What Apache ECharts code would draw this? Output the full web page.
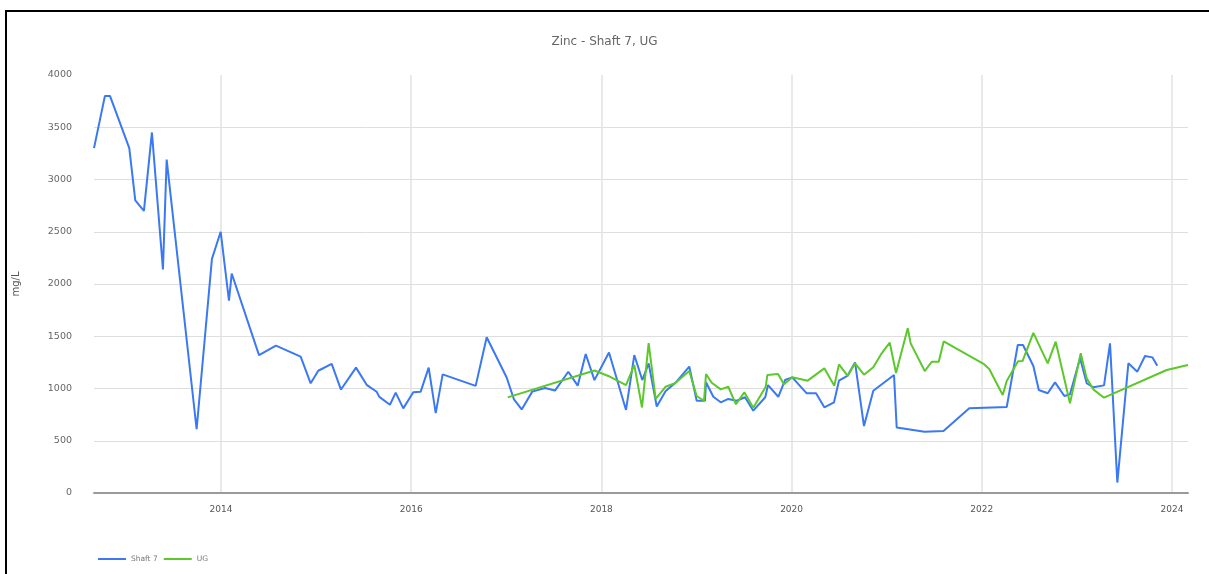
<!DOCTYPE html>
<html>
<head>
<meta charset="utf-8">
<title>Zinc - Shaft 7, UG</title>
<script src="https://cdn.jsdelivr.net/npm/echarts@6/dist/echarts.min.js"></script>
<style>
  html, body { margin: 0; padding: 0; background: #fff; }
  #chart { position: absolute; left: 0; top: 0; width: 1209px; height: 574px; }
  #frame { position: absolute; left: 5px; top: 10px; right: -4px; bottom: -4px;
           border-top: 2px solid #000; border-left: 2px solid #000; pointer-events: none; }
</style>
</head>
<body>
<div id="chart"></div>
<div id="frame"></div>
<script>
// Sample dates as decimal years, zinc concentration in mg/L
const shaftYears = [
  2012.665, 2012.780, 2012.833, 2013.036, 2013.099, 2013.190, 2013.274, 2013.390, 2013.429, 2013.744,
  2013.905, 2013.997, 2014.084, 2014.113, 2014.400, 2014.578, 2014.838, 2014.943, 2015.023, 2015.164,
  2015.262, 2015.420, 2015.532, 2015.637, 2015.665, 2015.777, 2015.837, 2015.917, 2016.022, 2016.100,
  2016.184, 2016.258, 2016.331, 2016.678, 2016.794, 2017.004, 2017.081, 2017.162, 2017.273, 2017.407,
  2017.512, 2017.652, 2017.751, 2017.835, 2017.927, 2018.080, 2018.259, 2018.346, 2018.430, 2018.497,
  2018.582, 2018.676, 2018.774, 2018.924, 2019.002, 2019.089, 2019.100, 2019.177, 2019.255, 2019.334,
  2019.423, 2019.510, 2019.597, 2019.723, 2019.752, 2019.860, 2019.931, 2020.007, 2020.159, 2020.257,
  2020.344, 2020.446, 2020.498, 2020.586, 2020.667, 2020.761, 2020.859, 2021.077, 2021.105, 2021.398,
  2021.597, 2021.868, 2022.262, 2022.378, 2022.433, 2022.542, 2022.599, 2022.693, 2022.770, 2022.868,
  2022.927, 2023.033, 2023.103, 2023.172, 2023.285, 2023.348, 2023.425, 2023.541, 2023.635, 2023.716,
  2023.793, 2023.845
];
const shaftZinc = [
  3300, 3800, 3800, 3300, 2800, 2700, 3450, 2140, 3190, 610,
  2240, 2500, 1840, 2100, 1320, 1410, 1305, 1050, 1170, 1235,
  990, 1200, 1035, 969, 920, 845, 960, 810, 965, 970,
  1200, 765, 1135, 1025, 1490, 1105, 895, 800, 970, 1005,
  980, 1160, 1027, 1330, 1080, 1345, 795, 1320, 1081, 1240,
  828, 976, 1050, 1210, 883, 883, 1060, 921, 868, 900,
  883, 916, 788, 916, 1033, 921, 1081, 1107, 954, 954,
  820, 868, 1075, 1120, 1250, 640, 979, 1129, 627, 587,
  593, 810, 823, 1416, 1416, 1215, 986, 954, 1059, 928,
  944, 1289, 1050, 1011, 1030, 1432, 100, 1241, 1161, 1311,
  1298, 1218
];

const ugYears = [
  2017.015, 2017.927, 2018.073, 2018.259, 2018.346, 2018.427, 2018.497, 2018.571, 2018.676, 2018.774,
  2018.924, 2019.002, 2019.079, 2019.100, 2019.160, 2019.255, 2019.334, 2019.415, 2019.503, 2019.597,
  2019.728, 2019.745, 2019.857, 2019.920, 2020.007, 2020.169, 2020.344, 2020.449, 2020.498, 2020.590,
  2020.667, 2020.761, 2020.859, 2020.947, 2021.032, 2021.098, 2021.221, 2021.252, 2021.400, 2021.473,
  2021.547, 2021.599, 2022.023, 2022.078, 2022.220, 2022.262, 2022.381, 2022.428, 2022.542, 2022.693,
  2022.777, 2022.927, 2023.040, 2023.103, 2023.172, 2023.285, 2023.944, 2024.168
];
const ugZinc = [
  915, 1172, 1120, 1033, 1225, 818, 1435, 900, 1017, 1050,
  1167, 928, 883, 1139, 1055, 992, 1017, 849, 963, 816,
  1017, 1129, 1139, 1041, 1107, 1075, 1193, 1027, 1231, 1120,
  1241, 1132, 1203, 1337, 1438, 1148, 1576, 1432, 1167, 1256,
  1256, 1450, 1233, 1187, 938, 1072, 1260, 1263, 1532, 1241,
  1448, 858, 1337, 1097, 992, 912, 1177, 1225
];

const seriesNames = ['Shaft 7', 'UG'];
const seriesColors = ['#3a78f4', '#5cc82c'];

function pairs(xs, ys) {
  return xs.map((x, i) => [x, ys[i]]);
}

const chart = echarts.init(document.getElementById('chart'), null, { renderer: 'canvas' });

chart.setOption({
  animation: false,
  backgroundColor: 'transparent',
  title: {
    text: 'Zinc - Shaft 7, UG',
    left: 'center',
    top: 31,
    textStyle: { fontFamily: 'DejaVu Sans', fontSize: 12, fontWeight: 'normal', color: '#666' }
  },
  legend: {
    left: 98,
    top: 555,
    padding: 0,
    icon: 'rect',
    itemWidth: 28,
    itemHeight: 2,
    itemGap: 6,
    textStyle: { fontFamily: 'DejaVu Sans', fontSize: 7.5, color: '#777' },
    data: seriesNames
  },
  grid: { left: 94, right: 21, top: 75, bottom: 81, containLabel: false },
  xAxis: {
    type: 'value',
    min: 'dataMin',
    max: 'dataMax',
    splitNumber: 5,
    axisLine: { show: true, onZero: true, lineStyle: { color: '#9a9a9a', width: 2 } },
    axisTick: { show: false },
    axisLabel: {
      showMinLabel: false,
      showMaxLabel: false,
      margin: 12,
      fontFamily: 'DejaVu Sans',
      fontSize: 9,
      color: '#555',
      formatter: v => (Number.isInteger(v) ? String(v) : '')
    },
    splitLine: { show: true, showMinLine: false, showMaxLine: false, lineStyle: { color: '#e2e2e2', width: 1.5 } }
  },
  yAxis: {
    type: 'value',
    min: 0,
    max: 4000,
    interval: 500,
    name: 'mg/L',
    nameLocation: 'middle',
    nameRotate: 90,
    nameGap: 73,
    nameTextStyle: { fontFamily: 'DejaVu Sans', fontSize: 10, color: '#555' },
    axisLine: { show: false },
    axisTick: { show: false },
    axisLabel: {
      margin: 22,
      fontFamily: 'DejaVu Sans',
      fontSize: 9.5,
      color: '#666',
      formatter: v => String(v)
    },
    splitLine: { show: true, showMaxLine: false, lineStyle: { color: '#dedede', width: 1 } }
  },
  series: [
    {
      name: seriesNames[0],
      type: 'line',
      data: pairs(shaftYears, shaftZinc),
      showSymbol: false,
      symbol: 'none',
      lineStyle: { width: 2, color: seriesColors[0] },
      itemStyle: { color: seriesColors[0] },
      z: 2
    },
    {
      name: seriesNames[1],
      type: 'line',
      data: pairs(ugYears, ugZinc),
      showSymbol: false,
      symbol: 'none',
      lineStyle: { width: 2, color: seriesColors[1] },
      itemStyle: { color: seriesColors[1] },
      z: 3
    }
  ]
});
</script>
</body>
</html>
